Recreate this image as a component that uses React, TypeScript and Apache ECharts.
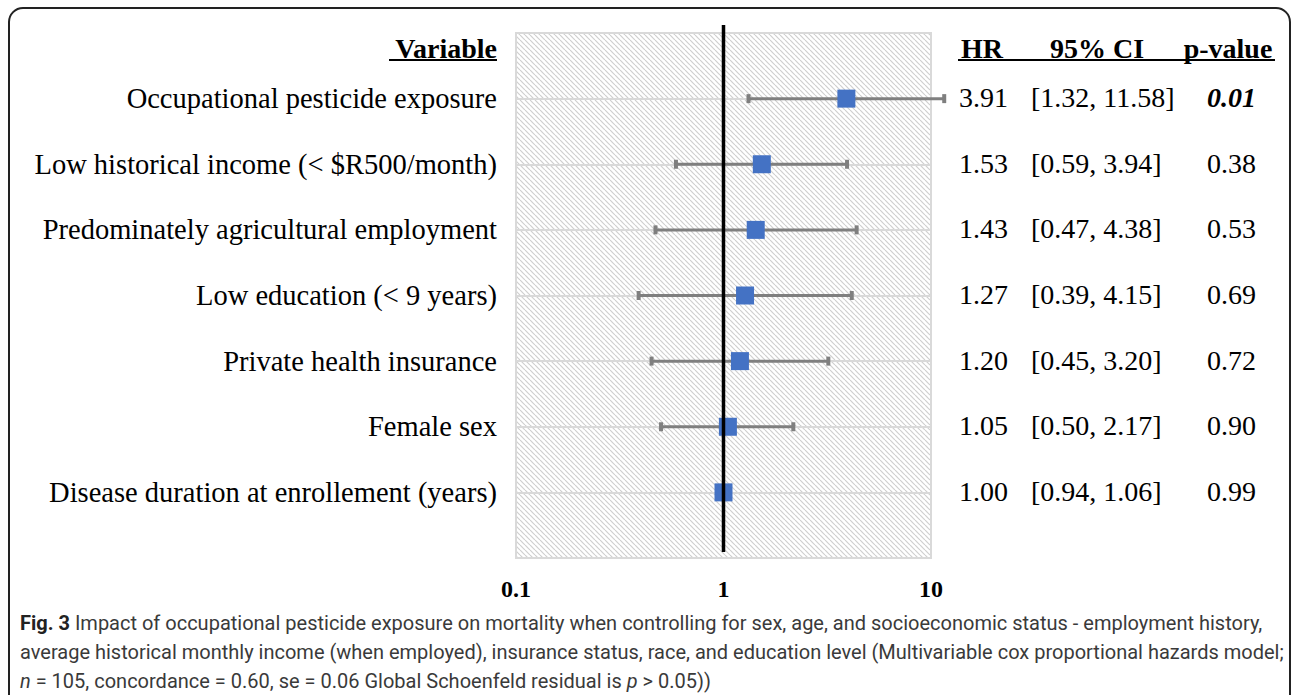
import React, { useEffect, useRef } from 'react';
import * as echarts from 'echarts';

const variables = [
  'Occupational pesticide exposure',
  'Low historical income (< $R500/month)',
  'Predominately agricultural employment',
  'Low education (< 9 years)',
  'Private health insurance',
  'Female sex',
  'Disease duration at enrollement (years)',
];
const hazardRatios = [3.91, 1.53, 1.43, 1.27, 1.2, 1.05, 1.0];
const ciLower = [1.32, 0.59, 0.47, 0.39, 0.45, 0.5, 0.94];
const ciUpper = [11.58, 3.94, 4.38, 4.15, 3.2, 2.17, 1.06];
const pValues = [0.01, 0.38, 0.53, 0.69, 0.72, 0.9, 0.99];
const xTicks = [0.1, 1, 10];
const referenceHR = 1;
const tableHeaders = ['HR', '95% CI', 'p-value'];
const variableHeader = 'Variable';
const captionLines = [
  '{b|Fig. 3} Impact of occupational pesticide exposure on mortality when controlling for sex, age, and socioeconomic status - employment history,',
  'average historical monthly income (when employed), insurance status, race, and education level (Multivariable cox proportional hazards model;',
  '{i|n} = 105, concordance = 0.60, se = 0.06 Global Schoenfeld residual is {i|p} > 0.05))',
];

const SERIF = '"Liberation Serif", "Times New Roman", serif';
const SANS = 'Roboto, "Open Sans", sans-serif';

const GRID = { left: 516, top: 33, width: 415, height: 525 };

function makeHatch() {
  const s = 5;
  const c = document.createElement('canvas');
  c.width = s;
  c.height = s;
  const ctx = c.getContext('2d')!;
  ctx.fillStyle = '#ffffff';
  ctx.fillRect(0, 0, s, s);
  ctx.strokeStyle = '#cfcfcf';
  ctx.lineWidth = 1.2;
  for (let k = -s; k <= s; k += s) {
    ctx.beginPath();
    ctx.moveTo(k, 0);
    ctx.lineTo(k + s, s);
    ctx.stroke();
  }
  return { image: c, repeat: 'repeat', imageWidth: s, imageHeight: s };
}

export default function App() {
  const ref = useRef<HTMLDivElement>(null);
  useEffect(() => {
    if (!ref.current) return;
    const chart = echarts.init(ref.current, undefined, { renderer: 'svg' });
    const n = variables.length;
    const rowLabel = (v: number) => {
      const i = Math.round(v) - 1;
      return i >= 0 && i < n ? i : -1;
    };
    const numStyle = { fontFamily: SERIF, fontSize: 28, color: '#000' };
    const option: any = {
      animation: false,
      backgroundColor: '#ffffff',
      grid: { ...GRID, containLabel: false },
      xAxis: {
        type: 'log',
        logBase: 10,
        min: xTicks[0],
        max: xTicks[xTicks.length - 1],
        axisLine: { show: false },
        axisTick: { show: false },
        splitLine: { show: false },
        axisLabel: {
          fontFamily: SERIF,
          fontWeight: 'bold',
          fontSize: 24,
          color: '#000',
          margin: 19,
          formatter: (v: number) => String(+v.toPrecision(3)),
        },
      },
      yAxis: [
        {
          type: 'value',
          min: 0,
          max: n + 1,
          interval: 1,
          inverse: true,
          axisLine: { show: false },
          axisTick: { show: false },
          splitLine: { show: true, lineStyle: { color: '#d9d9d9', width: 2 } },
          axisLabel: {
            fontFamily: SERIF,
            fontSize: 28.5,
            color: '#000',
            margin: 19,
            padding: [0, 0, 2, 0],
            formatter: (v: number) => {
              const i = rowLabel(v);
              return i >= 0 ? variables[i] : '';
            },
          },
        },
        {
          type: 'value',
          position: 'right',
          min: 0,
          max: n + 1,
          interval: 1,
          inverse: true,
          axisLine: { show: false },
          axisTick: { show: false },
          splitLine: { show: false },
          axisLabel: {
            margin: 28,
            align: 'left',
            fontFamily: SERIF,
            fontSize: 28,
            color: '#000',
            padding: [0, 0, 2, 0],
            formatter: (v: number) => {
              const i = rowLabel(v);
              if (i < 0) return '';
              const ci = `[${ciLower[i].toFixed(2)}, ${ciUpper[i].toFixed(2)}]`;
              const pStyle = pValues[i] < 0.05 ? 'pb' : 'p';
              return `{hr|${hazardRatios[i].toFixed(2)}}{ci|${ci}}{${pStyle}|${pValues[i].toFixed(2)}}`;
            },
            rich: {
              hr: { width: 72, ...numStyle },
              ci: { width: 176, ...numStyle },
              p: { ...numStyle },
              pb: { ...numStyle, fontWeight: 'bold', fontStyle: 'italic' },
            },
          },
        },
      ],
      graphic: [
        {
          type: 'rect',
          z: -10,
          silent: true,
          shape: { x: GRID.left, y: GRID.top, width: GRID.width, height: GRID.height },
          style: { fill: makeHatch(), stroke: '#d9d9d9', lineWidth: 2 },
        },
        {
          type: 'rect',
          silent: true,
          shape: { x: 9, y: 8, width: 1281, height: 720, r: 14 },
          style: { fill: 'none', stroke: '#222', lineWidth: 2 },
        },
        {
          type: 'text',
          x: 497,
          y: 48,
          style: {
            text: variableHeader,
            font: `bold 28px ${SERIF}`,
            fill: '#000',
            align: 'right',
            verticalAlign: 'middle',
          },
        },
        { type: 'line', shape: { x1: 389, y1: 60, x2: 497, y2: 60 }, style: { stroke: '#000', lineWidth: 2 } },
        {
          type: 'text',
          x: 961,
          y: 48,
          style: { text: tableHeaders[0], font: `bold 28px ${SERIF}`, fill: '#000', align: 'left', verticalAlign: 'middle' },
        },
        {
          type: 'text',
          x: 1097,
          y: 48,
          style: { text: tableHeaders[1], font: `bold 28px ${SERIF}`, fill: '#000', align: 'center', verticalAlign: 'middle' },
        },
        {
          type: 'text',
          x: 1228,
          y: 48,
          style: { text: tableHeaders[2], font: `bold 28px ${SERIF}`, fill: '#000', align: 'center', verticalAlign: 'middle' },
        },
        { type: 'line', shape: { x1: 958, y1: 60, x2: 1275, y2: 60 }, style: { stroke: '#000', lineWidth: 2 } },
        ...captionLines.map((t, k) => ({
          type: 'text',
          x: 20,
          y: 623 + k * 29,
          style: {
            text: t,
            font: `20px ${SANS}`,
            fill: '#3a3a3a',
            align: 'left',
            verticalAlign: 'middle',
            rich: {
              b: { fontFamily: SANS, fontSize: 20, fontWeight: 'bold', fill: '#222' },
              i: { fontFamily: SANS, fontSize: 20, fontStyle: 'italic', fill: '#3a3a3a' },
            },
          },
        })),
      ],
      series: [
        {
          type: 'custom',
          clip: false,
          z: 3,
          data: hazardRatios.map((_, i) => [ciLower[i], ciUpper[i], i + 1]),
          encode: { x: [0, 1], y: 2 },
          renderItem: (params: any, api: any) => {
            const lo = api.coord([api.value(0), api.value(2)]);
            const hi = api.coord([api.value(1), api.value(2)]);
            const st = { stroke: '#7f7f7f', lineWidth: 3 };
            return {
              type: 'group',
              children: [
                { type: 'line', shape: { x1: lo[0], y1: lo[1], x2: hi[0], y2: hi[1] }, style: st },
                { type: 'rect', shape: { x: lo[0] - 2, y: lo[1] - 4.5, width: 4, height: 9 }, style: { fill: '#7f7f7f' } },
                { type: 'rect', shape: { x: hi[0] - 2, y: hi[1] - 4.5, width: 4, height: 9 }, style: { fill: '#7f7f7f' } },
              ],
            };
          },
        },
        {
          type: 'scatter',
          z: 4,
          symbol: 'rect',
          symbolSize: 18,
          itemStyle: { color: '#4472C4', opacity: 1 },
          data: hazardRatios.map((v, i) => [v, i + 1]),
        },
        {
          type: 'custom',
          clip: false,
          z: 5,
          data: [[referenceHR, 0, n + 1]],
          encode: { x: 0, y: [1, 2] },
          renderItem: (params: any, api: any) => {
            const top = api.coord([api.value(0), api.value(1)]);
            const bot = api.coord([api.value(0), api.value(2)]);
            return {
              type: 'line',
              shape: { x1: top[0], y1: top[1] - 8, x2: bot[0], y2: bot[1] - 6 },
              style: { stroke: '#000', lineWidth: 3.5 },
            };
          },
        },
      ],
    };
    chart.setOption(option);
    return () => chart.dispose();
  }, []);
  return (
    <div
      ref={ref}
      style={{ position: 'fixed', left: 0, top: 0, width: 1292, height: 695, background: '#fff' }}
    />
  );
}
